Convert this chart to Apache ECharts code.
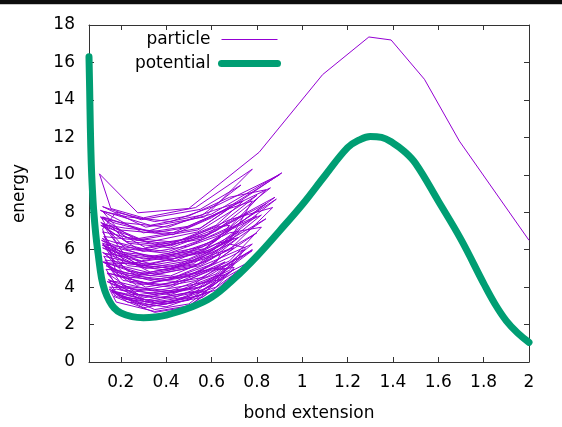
<!DOCTYPE html>
<html><head><meta charset="utf-8">
<script src="https://cdn.jsdelivr.net/npm/echarts@6/dist/echarts.min.js"></script>
<style>html,body{margin:0;padding:0;background:#fff}#c{width:562px;height:427px}</style>
</head><body><div id="c"></div>
<script>
const xTicks = [0.2, 0.4, 0.6, 0.8, 1, 1.2, 1.4, 1.6, 1.8, 2];
const seriesNames = ['particle', 'potential'];

const potentialX = [0.06, 0.063, 0.066, 0.07, 0.075, 0.08, 0.09, 0.1, 0.115, 0.13, 0.15, 0.17, 0.2, 0.25, 0.3, 0.35, 0.4, 0.5, 0.6, 0.7, 0.8, 0.9, 1.0, 1.1, 1.2, 1.25, 1.3, 1.35, 1.4, 1.45, 1.5, 1.6, 1.7, 1.8, 1.85, 1.9, 1.95, 2.0];
const potentialY = [16.3, 14.5, 12.5, 10.6, 9.2, 8.2, 6.8, 5.8, 4.5, 3.8, 3.25, 2.9, 2.62, 2.42, 2.37, 2.4, 2.5, 2.88, 3.45, 4.45, 5.65, 7.0, 8.4, 9.95, 11.45, 11.85, 12.05, 12.0, 11.7, 11.25, 10.6, 8.6, 6.55, 4.2, 3.1, 2.2, 1.55, 1.05];

// particle trace, part 1
const particleX1 = [0.12, 0.22, 0.42, 0.62, 0.88, 0.61, 0.43, 0.21, 0.125, 0.23, 0.41, 0.62, 0.7, 0.6, 0.44, 0.22, 0.14, 0.2, 0.42, 0.63, 0.76, 0.62, 0.4, 0.23, 0.16, 0.22, 0.43, 0.61, 0.66, 0.6, 0.42, 0.21, 0.13, 0.24, 0.42, 0.62, 0.82, 0.62, 0.41, 0.22, 0.12, 0.2, 0.43, 0.6, 0.9, 0.63, 0.42, 0.23, 0.12, 0.22, 0.44, 0.62, 0.74, 0.61, 0.41, 0.2, 0.12, 0.23, 0.42, 0.62, 0.86, 0.6, 0.43, 0.22, 0.12, 0.21, 0.4, 0.62, 0.68, 0.62, 0.42, 0.24, 0.125, 0.22, 0.43, 0.61, 0.8, 0.62, 0.41, 0.21, 0.125, 0.23, 0.42, 0.6, 0.72, 0.62, 0.44, 0.22, 0.13, 0.22, 0.41, 0.62, 0.64, 0.42, 0.23, 0.135, 0.21, 0.42, 0.62, 0.78, 0.61, 0.43, 0.22, 0.135, 0.24, 0.42, 0.6, 0.7, 0.62, 0.4, 0.22, 0.15, 0.22, 0.43, 0.62, 0.66, 0.61, 0.42, 0.21, 0.15];
const particleY1 = [7.3, 6.45, 6.2, 7.1, 8.8, 6.4, 5.5, 5.75, 6.2, 5.15, 4.9, 5.8, 6.1, 5.2, 4.3, 4.55, 4.75, 3.85, 3.6, 4.5, 5.3, 3.85, 2.95, 3.2, 3.8, 3.65, 3.4, 4.3, 4.95, 5.0, 4.1, 4.35, 5.45, 5.25, 5.0, 5.9, 7.85, 6.7, 5.8, 6.05, 7.4, 7.05, 6.8, 7.7, 10.0, 8.4, 7.5, 7.75, 8.05, 6.65, 6.4, 7.3, 8.6, 8.1, 7.2, 7.45, 7.75, 6.35, 6.1, 7.0, 9.3, 7.8, 6.9, 7.15, 7.35, 5.85, 5.6, 6.5, 7.3, 7.2, 6.3, 6.55, 6.7, 5.35, 5.1, 6.0, 7.8, 6.8, 5.9, 6.15, 6.25, 4.85, 4.6, 5.5, 6.65, 6.3, 5.4, 5.65, 5.8, 4.65, 4.4, 5.3, 5.75, 5.0, 5.25, 5.3, 4.05, 3.8, 4.7, 6.3, 5.4, 4.5, 4.75, 5.15, 4.25, 4.0, 4.9, 5.05, 4.0, 3.1, 3.35, 4.0, 3.95, 3.7, 4.6, 4.65, 4.1, 3.2, 3.45, 3.9];
// particle trace, part 2
const particleX2 = [0.18, 0.35, 0.5, 0.6, 0.5, 0.35, 0.18, 0.17, 0.35, 0.5, 0.58, 0.5, 0.35, 0.18, 0.16, 0.35, 0.5, 0.64, 0.5, 0.35, 0.18, 0.15, 0.18, 0.35, 0.5, 0.7, 0.5, 0.35, 0.18, 0.135, 0.18, 0.35, 0.5, 0.68, 0.75, 0.68, 0.5, 0.35, 0.18, 0.125, 0.18, 0.35, 0.5, 0.68, 0.82, 0.68, 0.5, 0.35, 0.18, 0.12, 0.18, 0.35, 0.5, 0.68, 0.87, 0.68, 0.5, 0.35, 0.18, 0.12, 0.18, 0.35, 0.5, 0.68, 0.78, 0.68, 0.5, 0.35, 0.18, 0.115, 0.18, 0.35, 0.5, 0.68, 0.84, 0.68, 0.5, 0.35, 0.18, 0.12, 0.18, 0.35, 0.5, 0.68, 0.74, 0.62, 0.5, 0.35, 0.18, 0.16];
const particleY2 = [3.2, 2.7, 3.0, 3.8, 3.4, 3.1, 3.6, 3.5, 2.65, 2.95, 3.75, 3.7, 3.4, 3.9, 3.8, 2.8, 3.1, 4.4, 4.1, 3.8, 4.3, 4.3, 3.7, 3.2, 3.5, 5.25, 4.7, 4.4, 4.9, 4.95, 4.1, 3.6, 3.9, 4.9, 6.1, 6.3, 5.3, 5.0, 5.5, 5.65, 4.6, 4.1, 4.4, 5.4, 7.2, 6.9, 5.9, 5.6, 6.1, 6.35, 5.2, 4.7, 5.0, 6.0, 8.25, 7.6, 6.6, 6.3, 6.8, 6.95, 5.7, 5.2, 5.5, 6.5, 8.6, 8.2, 7.2, 6.9, 7.4, 7.7, 6.4, 5.9, 6.2, 7.2, 9.2, 8.8, 7.8, 7.5, 8.0, 7.1, 4.8, 4.3, 4.6, 5.6, 6.0, 4.3, 3.3, 3.0, 3.5, 3.75];
// particle trace, part 3, ending with the escape over the barrier
const particleX3 = [0.155, 0.3, 0.55, 0.7, 0.56, 0.31, 0.145, 0.28, 0.53, 0.78, 0.57, 0.29, 0.14, 0.32, 0.54, 0.8, 0.55, 0.33, 0.125, 0.27, 0.52, 0.66, 0.5, 0.28, 0.14, 0.31, 0.55, 0.74, 0.56, 0.3, 0.16, 0.29, 0.54, 0.78, 0.58, 0.31, 0.12, 0.28, 0.55, 0.84, 0.59, 0.3, 0.115, 0.32, 0.56, 0.886, 0.6, 0.29, 0.12, 0.27, 0.53, 0.7, 0.52, 0.31, 0.118, 0.3, 0.57, 0.76, 0.55, 0.28, 0.112, 0.32, 0.54, 0.8, 0.57, 0.3, 0.118, 0.26, 0.55, 0.72, 0.52, 0.33, 0.12, 0.29, 0.56, 0.84, 0.58, 0.31, 0.112, 0.28, 0.55, 0.91, 0.6, 0.32, 0.11, 0.27, 0.54, 0.69, 0.5, 0.3, 0.11, 0.33, 0.56, 0.73, 0.55, 0.29, 0.12, 0.31, 0.57, 0.78, 0.53, 0.3, 0.156, 0.106, 0.275, 0.5, 0.81, 1.09, 1.294, 1.392, 1.539, 1.693, 2.0];
const particleY3 = [3.7, 3.0, 3.55, 4.95, 3.85, 3.3, 4.4, 3.8, 4.35, 5.95, 4.05, 3.5, 4.75, 4.2, 4.75, 6.9, 5.15, 4.6, 5.35, 4.1, 4.6, 5.35, 3.95, 3.6, 4.3, 3.2, 3.75, 5.05, 3.45, 2.9, 3.8, 3.4, 3.95, 6.0, 4.55, 4.0, 5.35, 4.7, 5.25, 7.65, 5.9, 5.2, 6.5, 5.6, 6.15, 8.7, 6.0, 5.1, 5.85, 4.6, 5.15, 6.6, 5.45, 5.0, 6.25, 5.5, 6.05, 7.95, 6.55, 6.0, 7.3, 6.4, 6.95, 8.9, 6.7, 5.9, 6.6, 5.3, 5.85, 6.95, 5.25, 4.8, 6.1, 5.4, 5.95, 8.45, 6.8, 6.1, 7.45, 6.6, 7.15, 10.1, 7.9, 7.0, 7.75, 6.5, 7.05, 8.3, 7.25, 6.9, 8.1, 7.3, 7.85, 9.45, 8.15, 7.6, 8.3, 7.2, 7.75, 10.3, 8.25, 7.7, 8.2, 10.05, 7.97, 8.2, 11.2, 15.35, 17.36, 17.2, 15.1, 11.8, 6.5];

const FONT = 'DejaVu Sans';
const AXIS_COLOR = '#333';

function pairs(xs, ys) { return xs.map((x, i) => [x, ys[i]]); }
const particleData = pairs(particleX1, particleY1)
  .concat(pairs(particleX2, particleY2))
  .concat(pairs(particleX3, particleY3));

const chart = echarts.init(document.getElementById('c'), null, {renderer: 'canvas'});
const xCommon = {
  type: 'value', min: 0.06, max: 2,
  axisLine: {show: true, onZero: false, lineStyle: {color: AXIS_COLOR, width: 1}},
  axisTick: {show: true, inside: true, length: 5, customValues: xTicks, lineStyle: {color: AXIS_COLOR}},
  splitLine: {show: false}
};
const yCommon = {
  type: 'value', min: 0, max: 18, interval: 2,
  axisLine: {show: true, onZero: false, lineStyle: {color: AXIS_COLOR, width: 1}},
  axisTick: {show: true, inside: true, length: 5, lineStyle: {color: AXIS_COLOR}},
  splitLine: {show: false}
};
chart.setOption({
  animation: false,
  backgroundColor: '#fff',
  textStyle: {fontFamily: FONT},
  graphic: [
    {type: 'rect', shape: {x: 0, y: 0, width: 562, height: 4}, style: {fill: '#0d0d0d'}},
    {type: 'rect', shape: {x: 0, y: 4, width: 562, height: 1}, style: {fill: '#c8c8c8'}}
  ],
  grid: {left: 89, right: 33, top: 25, bottom: 65, containLabel: false, outerBoundsMode: 'none'},
  legend: {
    data: seriesNames,
    orient: 'vertical', align: 'right', right: 281, top: 31, padding: 0,
    itemWidth: 56, itemHeight: 14, itemGap: 7, selectedMode: false,
    itemStyle: {opacity: 0},
    lineStyle: {width: 'inherit'},
    textStyle: {fontSize: 17, color: '#000', fontFamily: FONT, padding: [0, 6, 0, 0]}
  },
  xAxis: [
    Object.assign({}, xCommon, {
      position: 'bottom',
      axisLabel: {show: true, customValues: xTicks, fontSize: 17, color: '#000', margin: 12, fontFamily: FONT},
      name: 'bond extension', nameLocation: 'middle', nameGap: 43,
      nameTextStyle: {fontSize: 17, color: '#000', fontFamily: FONT}
    }),
    Object.assign({}, xCommon, {position: 'top', axisLabel: {show: false}})
  ],
  yAxis: [
    Object.assign({}, yCommon, {
      position: 'left',
      axisLabel: {show: true, fontSize: 17, color: '#000', margin: 14, fontFamily: FONT},
      name: 'energy', nameLocation: 'middle', nameGap: 61,
      nameTextStyle: {fontSize: 17, color: '#000', fontFamily: FONT}
    }),
    Object.assign({}, yCommon, {position: 'right', axisLabel: {show: false}})
  ],
  series: [
    {
      name: seriesNames[0], type: 'line', xAxisIndex: 0, yAxisIndex: 0,
      data: particleData, symbol: 'none', showSymbol: false,
      lineStyle: {color: '#9400d3', width: 1}, itemStyle: {color: '#9400d3'}, z: 2
    },
    {
      name: seriesNames[1], type: 'line', xAxisIndex: 0, yAxisIndex: 0,
      data: pairs(potentialX, potentialY), symbol: 'none', showSymbol: false,
      smooth: 0.4, clip: false,
      lineStyle: {color: '#009e73', width: 7, cap: 'round', join: 'round'},
      itemStyle: {color: '#009e73'}, z: 3
    }
  ]
});
</script>
</body></html>
